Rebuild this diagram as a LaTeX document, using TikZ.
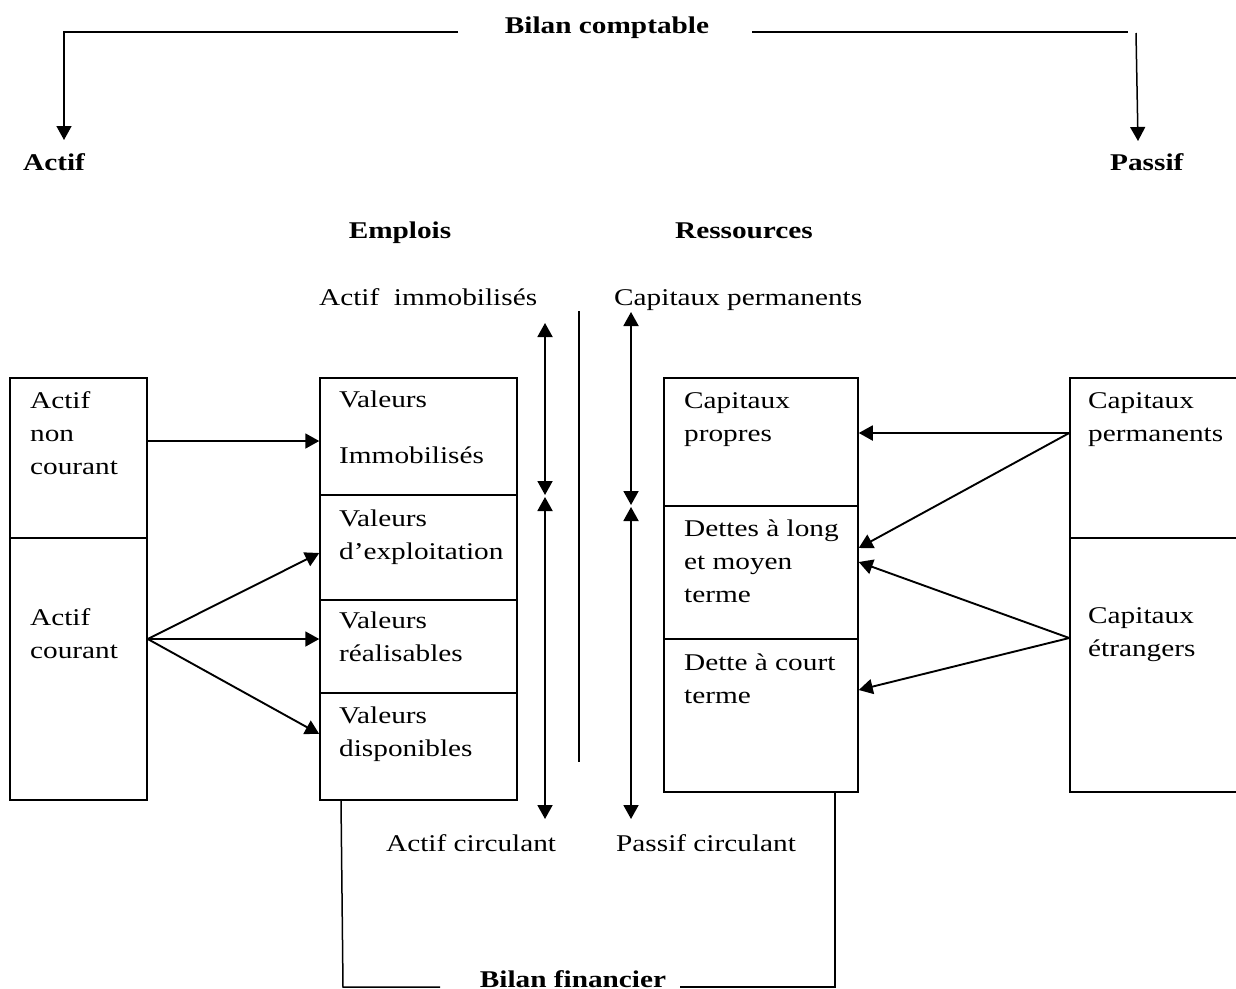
\documentclass[tikz,border=0pt]{standalone}
\usepackage{fontspec}
\setmainfont[FakeStretch=1.22]{Liberation Serif}
\usetikzlibrary{arrows.meta,fit}

% strut that fixes the height of the first line of a multi-line label
\newcommand\lnstrut{\rule{0pt}{18pt}}

\begin{document}
\begin{tikzpicture}[x=1pt,y=-1pt,
  every node/.style={font=\fontsize{24}{33}\selectfont, inner sep=0pt},
  cell/.style={draw, line width=1.5pt, inner sep=0pt},
  lbl/.style={anchor=north west, align=left},
  head/.style={anchor=base, font=\fontsize{24}{33}\selectfont\bfseries},
  tag/.style={anchor=base west},
  conn/.style={line width=1.9pt, -{Triangle[length=14pt,width=15pt]}},
  span/.style={line width=1.9pt, {Triangle[length=14pt,width=15pt]}-{Triangle[length=14pt,width=15pt]}},
  rule/.style={line width=1.5pt}
]
\useasboundingbox (0,0) rectangle (1236,988);

% ---------- titles ----------
\node[head] (bc) at (607,33) {Bilan comptable};
\node[head, anchor=base west] (actif) at (23,170) {Actif};
\node[head, anchor=base west] (passif) at (1110,170) {Passif};
\node[head] (emplois) at (400,238) {Emplois};
\node[head] (ressources) at (744,238) {Ressources};
\node[tag] (aimm) at (319,305) {Actif~ immobilisés};
\node[tag] (cperm) at (614,305) {Capitaux permanents};
\node[tag] (acirc) at (386,851) {Actif circulant};
\node[tag] (pcirc) at (616,851) {Passif circulant};
\node[head] (bf) at (573,987) {Bilan financier};

% ---------- top bracket ----------
\coordinate (bcL) at (458,32);
\coordinate (actifTip) at (64,140);
\coordinate (bcR) at (752,32);
\coordinate (bcR2) at (1128,32);
\coordinate (passifTop) at (1136,33);
\coordinate (passifTip) at (1138,141);
\draw[rule, -{Triangle[length=14pt,width=15pt]}] (bcL) -| (actifTip);
\draw[rule] (bcR) -- (bcR2);
\draw[rule, -{Triangle[length=14pt,width=15pt]}] (passifTop) -- (passifTip);

% ---------- left column: actif ----------
\node[cell, fit={(10,378) (147,538)}] (anc) {};
\node[cell, fit={(10,538) (147,800)}] (ac) {};
\node[lbl] (tanc) at (30,390) {\lnstrut Actif\\non\\courant};
\node[lbl] (tac) at (30,607) {\lnstrut Actif\\courant};

% ---------- emplois ----------
\node[cell, fit={(320,378) (517,495)}] (vi) {};
\node[cell, fit={(320,495) (517,600)}] (ve) {};
\node[cell, fit={(320,600) (517,693)}] (vr) {};
\node[cell, fit={(320,693) (517,800)}] (vd) {};
\node[lbl] (tvi) at (339,389) {\lnstrut Valeurs\\[23pt]Immobilisés};
\node[lbl] (tve) at (339,508) {\lnstrut Valeurs\\d’exploitation};
\node[lbl] (tvr) at (339,610) {\lnstrut Valeurs\\réalisables};
\node[lbl] (tvd) at (339,705) {\lnstrut Valeurs\\disponibles};

% ---------- ressources ----------
\node[cell, fit={(664,378) (858,506)}] (cp) {};
\node[cell, fit={(664,506) (858,639)}] (dlmt) {};
\node[cell, fit={(664,639) (858,792)}] (dct) {};
\node[lbl] (tcp) at (684,390) {\lnstrut Capitaux\\propres};
\node[lbl] (tdlmt) at (684,518) {\lnstrut Dettes à long\\et moyen\\terme};
\node[lbl] (tdct) at (684,652) {\lnstrut Dette à court\\terme};

% ---------- right column: passif ----------
\node[cell, fit={(1070,378) (1245,538)}] (kp) {};
\node[cell, fit={(1070,538) (1245,792)}] (ke) {};
\node[lbl] (tkp) at (1088,390) {\lnstrut Capitaux\\permanents};
\node[lbl] (tke) at (1088,605) {\lnstrut Capitaux\\étrangers};

% ---------- flows ----------
\draw[conn] (anc.east |- 0,441) -- (vi.west |- 0,441);
\draw[conn] (ac.east |- 0,639) -- (ve.west |- 0,553);
\draw[conn] (ac.east |- 0,639) -- (vr.west |- 0,639);
\draw[conn] (ac.east |- 0,639) -- (vd.west |- 0,734);

\draw[conn] (kp.west |- 0,433) -- (cp.east |- 0,433);
\draw[conn] (kp.west |- 0,433) -- (dlmt.east |- 0,548);
\draw[conn] (ke.west |- 0,638) -- (dlmt.east |- 0,562);
\draw[conn] (ke.west |- 0,638) -- (dct.east |- 0,690);

% ---------- spans ----------
\coordinate (a1) at (545,323);
\coordinate (a2) at (545,495);
\coordinate (a3) at (545,497);
\coordinate (a4) at (545,819);
\coordinate (p1) at (631,312);
\coordinate (p2) at (631,505);
\coordinate (p3) at (631,507);
\coordinate (p4) at (631,819);
\draw[span] (a1) -- (a2);
\draw[span] (a3) -- (a4);
\draw[span] (p1) -- (p2);
\draw[span] (p3) -- (p4);

% central separator
\coordinate (sepT) at (579,311);
\coordinate (sepB) at (579,762);
\draw[rule] (sepT) -- (sepB);

% ---------- bilan financier bracket ----------
\coordinate (bfL) at (343,987);
\coordinate (bfL2) at (440,987);
\coordinate (bfR) at (680,987);
\coordinate (bfR2) at (835,987);
\draw[rule] (vd.south -| 341,0) -- (bfL) -- (bfL2);
\draw[rule] (bfR) -- (bfR2) -- (dct.south -| bfR2);
\end{tikzpicture}
\end{document}
